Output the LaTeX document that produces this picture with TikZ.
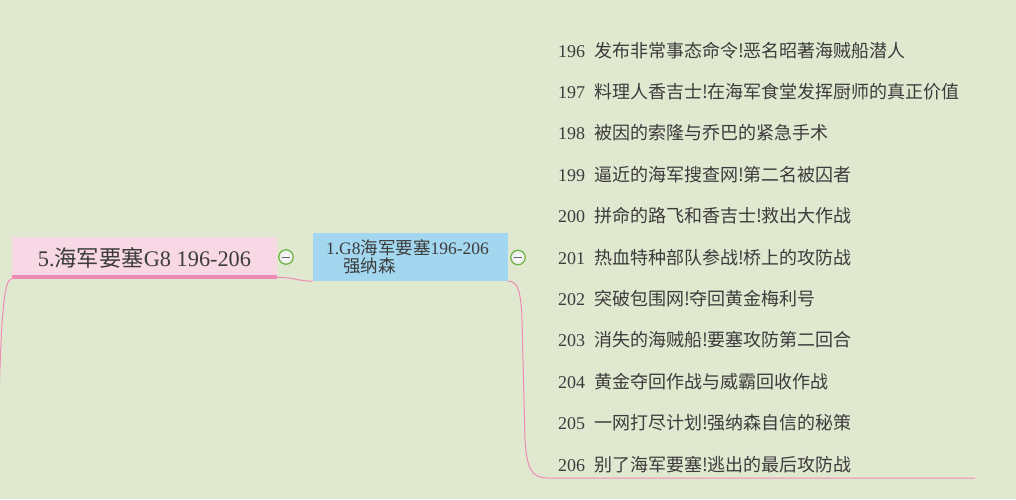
\documentclass[tikz,border=0pt]{standalone}
\usepackage{fontspec}
\setmainfont{Noto Sans CJK SC}
\newfontfamily\latinf{Liberation Serif}
\usepackage{xcolor}
\usepackage{tikz}
\usetikzlibrary{positioning}
\definecolor{mapbg}{HTML}{E1E8D0}
\definecolor{rootpink}{HTML}{F8D8E5}
\definecolor{linepink}{HTML}{EE8BB5}
\definecolor{topicblue}{HTML}{A3D7F0}
\definecolor{foldgreen}{HTML}{6DB33F}
\definecolor{ink}{HTML}{3C3C3C}
\newcommand{\chap}[2]{\makebox[36pt][l]{\latinf #1}#2}
\tikzset{
    rootblk/.style={fill=rootpink, minimum width=265pt, minimum height=42pt, inner sep=0pt,
                    text=ink, font=\fontsize{22.3}{24}\selectfont},
    subblk/.style={fill=topicblue, minimum width=195pt, minimum height=48pt, inner xsep=13pt,
                   inner ysep=0pt, text width=169pt, align=left, text=ink,
                   font=\fontsize{17.5}{18.5}\selectfont},
    item/.style={minimum height=28pt, inner xsep=18pt, inner ysep=0pt, text width=399pt,
                 text height=16pt, text depth=2pt, align=left, text=ink, outer sep=0pt,
                 font=\fontsize{18}{22}\selectfont},
    fold/.style={circle, draw=foldgreen, line width=1.2pt, inner color=white, outer color=gray!18,
                 minimum size=14.5pt, inner sep=0pt,
                 path picture={\draw[ink!80, line width=1pt]
                     ([xshift=-4pt]path picture bounding box.center) -- ([xshift=4pt]path picture bounding box.center);}},
    conn/.style={linepink, line width=1pt}
}
\begin{document}
\begin{tikzpicture}[x=1pt, y=-1pt, node distance=13.4pt]
        \fill[mapbg] (0,0) rectangle (1016,499);
        \useasboundingbox (0,0) rectangle (1016,499);
        \node[rootblk] (root) at (144.5,257.5) {{\latinf 5.}海军要塞{\latinf G8 196-206}};
        \draw[linepink, line width=4pt] ([yshift=2pt]root.south west) -- ([yshift=2pt]root.south east);
        \node[fold] (f1) at (286,257) {};
        \node[subblk] (sub) at (410.5,257) {{\latinf 1.G8}海军要塞{\latinf 196-206}\\\hspace*{17pt}强纳森};
        \node[fold] (f2) at (518,257.5) {};
        \node[item, anchor=west] (i196) at (540,50) {\chap{196}{发布非常事态命令!恶名昭著海贼船潜人}};
        \node[item, below=of i196] (i197) {\chap{197}{料理人香吉士!在海军食堂发挥厨师的真正价值}};
        \node[item, below=of i197] (i198) {\chap{198}{被因的索隆与乔巴的紧急手术}};
        \node[item, below=of i198] (i199) {\chap{199}{逼近的海军搜查网!第二名被囚者}};
        \node[item, below=of i199] (i200) {\chap{200}{拼命的路飞和香吉士!救出大作战}};
        \node[item, below=of i200] (i201) {\chap{201}{热血特种部队参战!桥上的攻防战}};
        \node[item, below=of i201] (i202) {\chap{202}{突破包围网!夺回黄金梅利号}};
        \node[item, below=of i202] (i203) {\chap{203}{消失的海贼船!要塞攻防第二回合}};
        \node[item, below=of i203] (i204) {\chap{204}{黄金夺回作战与威霸回收作战}};
        \node[item, below=of i204] (i205) {\chap{205}{一网打尽计划!强纳森自信的秘策}};
        \node[item, below=of i205] (i206) {\chap{206}{别了海军要塞!逃出的最后攻防战}};
        \coordinate (up) at (-2,440);
        \draw[conn] (root.south west) .. controls +(-8,1) and +(3,-130) .. (up);
        \draw[conn] ([yshift=1.5pt]root.south east) .. controls (295,277.5) and (297,281) .. (sub.south west);
        \draw[conn] (sub.south east) .. controls (518,281) and (521,292) .. (522,320) -- (525,440)
            .. controls (527,470) and (532,478) .. (548,478) -- (i206.south east);
    \end{tikzpicture}
\end{document}
